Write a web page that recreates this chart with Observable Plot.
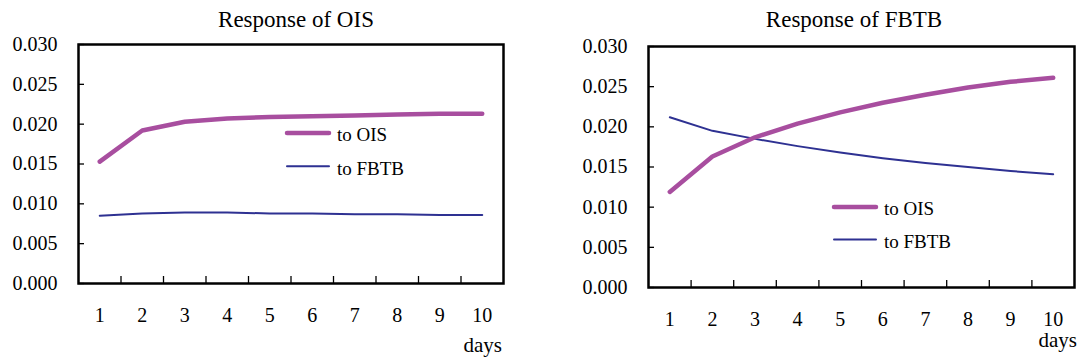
<!DOCTYPE html>
<html><head><meta charset="utf-8">
<script src="https://cdn.jsdelivr.net/npm/d3@7"></script>
<script src="https://cdn.jsdelivr.net/npm/@observablehq/plot@0.6"></script>
<style>
body{margin:0;background:#fff;font-family:"Liberation Serif",serif;color:#000;}
#wrap{position:relative;width:1083px;height:361px;overflow:hidden;}
.abs{position:absolute;}
.title{font-size:23px;transform:translateX(-50%);white-space:nowrap;line-height:1;}
.days{font-size:21px;line-height:1;transform:translateX(-100%);white-space:nowrap;}
</style></head>
<body><div id="wrap"></div>
<script>
const days = [1,2,3,4,5,6,7,8,9,10];
const oisToOis   = [0.0153,0.0192,0.0203,0.0207,0.0209,0.0210,0.0211,0.0212,0.0213,0.0213];
const oisToFbtb  = [0.0085,0.0088,0.0089,0.0089,0.0088,0.0088,0.0087,0.0087,0.0086,0.0086];
const fbtbToOis  = [0.0119,0.0163,0.0187,0.0204,0.0218,0.0230,0.0240,0.0249,0.0256,0.0261];
const fbtbToFbtb = [0.0212,0.0195,0.0185,0.0176,0.0168,0.0161,0.0155,0.0150,0.0145,0.0141];
const yTicks = [0,0.005,0.010,0.015,0.020,0.025,0.030];
const seriesNames = ["to OIS","to FBTB"];
const titles = ["Response of OIS","Response of FBTB"];
const xLabel = "days";
const colors = ["#a84e9f","#2e3192"];
const lineWidths = [4.5,2];
const boundaries = days.slice(0,-1).map(d=>d+0.5);
const FONT = "'Liberation Serif', serif";

const wrap = document.getElementById("wrap");

function makeChart(ois, fbtb, cfg){
  const rows = days.flatMap((d,i)=>[{day:d,v:ois[i],s:seriesNames[0]},{day:d,v:fbtb[i],s:seriesNames[1]}]);
  const svg = Plot.plot({
    width: cfg.width, height: 361,
    marginLeft: cfg.ml, marginRight: cfg.mr, marginTop: cfg.mt, marginBottom: cfg.mb,
    style:{fontFamily:FONT, fontSize:"20px", color:"#000", background:"transparent", overflow:"visible"},
    x:{domain:[0.5,10.5], label:null},
    y:{domain:[0,0.03], label:null},
    marks:[
      Plot.axisY({ticks:yTicks, tickSize:-6, strokeWidth:1.3, tickFormat:()=>"", label:null}),
      Plot.axisY({ticks:yTicks, tickSize:0, tickPadding:21, tickFormat:d3.format(".3f"), label:null}),
      Plot.axisX({ticks:boundaries, tickSize:-7, strokeWidth:1.3, tickFormat:()=>"", label:null}),
      Plot.axisX({ticks:days, tickSize:0, tickPadding:24, tickFormat:d=>String(d), label:null}),
      Plot.line(rows.filter(r=>r.s===seriesNames[1]), {x:"day", y:"v", stroke:colors[1], strokeWidth:lineWidths[1]}),
      Plot.line(rows.filter(r=>r.s===seriesNames[0]), {x:"day", y:"v", stroke:colors[0], strokeWidth:lineWidths[0], strokeLinecap:"round"}),
      Plot.frame({stroke:"#000", strokeWidth:2.5})
    ]
  });
  const box = document.createElement("div");
  box.className="abs"; box.style.left=cfg.left+"px"; box.style.top="0px";
  box.appendChild(svg);
  wrap.appendChild(box);

  const t = document.createElement("div");
  t.className="abs title"; t.textContent=cfg.title;
  t.style.left=cfg.titleX+"px"; t.style.top="8px";
  wrap.appendChild(t);

  const dl = document.createElement("div");
  dl.className="abs days"; dl.textContent=xLabel;
  dl.style.left=cfg.daysX+"px"; dl.style.top=cfg.daysY+"px";
  wrap.appendChild(dl);

  // legend overlay
  const leg = d3.create("svg").attr("width",140).attr("height",60)
    .style("position","absolute").style("left",cfg.legX+"px").style("top",(cfg.legY-10)+"px").style("overflow","visible");
  seriesNames.forEach((name,i)=>{
    const y = 10 + i*cfg.legGap;
    leg.append("line").attr("x1",0).attr("x2",42).attr("y1",y).attr("y2",y)
      .attr("stroke",colors[i]).attr("stroke-width",lineWidths[i]).attr("stroke-linecap","round");
    leg.append("text").attr("x",50).attr("y",y+8.2).text(name)
      .style("font-family",FONT).style("font-size","19px").attr("fill","#000");
  });
  wrap.appendChild(leg.node());
}

makeChart(oisToOis, oisToFbtb, {left:0, width:540, ml:78, mr:37, mt:44, mb:78,
  title:titles[0], titleX:296, legX:287, legY:133.3, legGap:33.3, daysX:502, daysY:335});
makeChart(fbtbToOis, fbtbToFbtb, {left:540, width:543, ml:108, mr:9, mt:46, mb:74,
  title:titles[1], titleX:854, legX:834, legY:206.7, legGap:32.6, daysX:1077, daysY:330});
</script></body></html>
